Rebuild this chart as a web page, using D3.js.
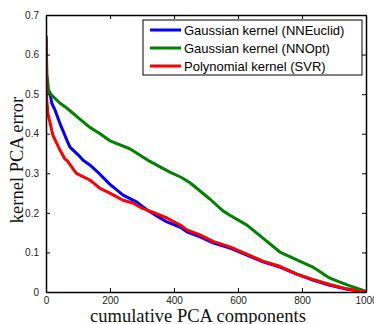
<html>
<head>
    <title>kernel PCA error</title>
    <style>
        body {
            margin: 0;
            padding: 0;
            background-color: white;
        }
        .tick text {
            font-family: "Liberation Sans", Arial, sans-serif;
            font-size: 10px;
            fill: #222;
        }
        .legend text {
            font-family: "Liberation Sans", Arial, sans-serif;
            font-size: 13px;
        }
        .axis-title {
            font-family: "Liberation Serif", "DejaVu Serif", serif;
            font-size: 18.5px;
            fill: #111;
        }
    </style>
</head>
<body>
<div id="chart"></div>
<script src="https://d3js.org/d3.v7.min.js"></script>
<script>
// values: x = number of components, y = error
const xEuclid = [0, 2, 5, 12, 18, 28, 44, 65, 75, 106, 116, 137, 159, 200, 241, 272, 284, 315, 350, 378, 422, 440, 480, 522, 575, 628, 678, 731, 784, 834, 887, 941, 1000];
const yEuclid = [0.648, 0.53, 0.51, 0.505, 0.477, 0.46, 0.425, 0.384, 0.366, 0.342, 0.333, 0.321, 0.305, 0.272, 0.245, 0.232, 0.227, 0.208, 0.19, 0.177, 0.163, 0.152, 0.14, 0.124, 0.111, 0.093, 0.076, 0.063, 0.045, 0.03, 0.017, 0.007, 0];

const xOpt = [0, 3, 8, 12, 44, 65, 106, 137, 169, 200, 262, 325, 387, 422, 450, 512, 553, 575, 628, 678, 731, 784, 834, 887, 941, 1000];
const yOpt = [0.645, 0.55, 0.51, 0.502, 0.477, 0.465, 0.437, 0.416, 0.4, 0.382, 0.362, 0.33, 0.303, 0.29, 0.276, 0.235, 0.205, 0.194, 0.169, 0.136, 0.101, 0.081, 0.063, 0.035, 0.018, 0.002];

const xSVR = [0, 2, 6, 12, 22, 34, 44, 59, 65, 95, 137, 169, 200, 241, 272, 300, 334, 378, 422, 440, 480, 522, 575, 628, 678, 731, 784, 834, 887, 941, 1000];
const ySVR = [0.64, 0.49, 0.45, 0.43, 0.395, 0.375, 0.358, 0.336, 0.333, 0.3, 0.283, 0.262, 0.25, 0.232, 0.225, 0.212, 0.202, 0.187, 0.168, 0.157, 0.145, 0.128, 0.114, 0.096, 0.078, 0.065, 0.045, 0.032, 0.019, 0.008, 0];

const seriesNames = ["Gaussian kernel (NNEuclid)", "Gaussian kernel (NNOpt)", "Polynomial kernel (SVR)"];
const seriesColors = ["#0000ff", "#008000", "#ff0000"];
const xTicks = [0, 200, 400, 600, 800, 1000];
const yTicks = [0, 0.1, 0.2, 0.3, 0.4, 0.5, 0.6, 0.7];

const width = 374, height = 324;
const margin = { top: 15, right: 8, bottom: 32, left: 46 };
const w = width - margin.left - margin.right;
const h = height - margin.top - margin.bottom;

const svg = d3.select("#chart").append("svg")
    .attr("width", width)
    .attr("height", height);

const g = svg.append("g")
    .attr("transform", `translate(${margin.left},${margin.top})`);

const x = d3.scaleLinear().domain([0, 1000]).range([0, w]);
const y = d3.scaleLinear().domain([0, 0.7]).range([h, 0]);

// clip so the thick lines stay inside the box
g.append("clipPath").attr("id", "clip")
    .append("rect").attr("width", w).attr("height", h);

const series = [
    xEuclid.map((d, i) => [d, yEuclid[i]]),
    xOpt.map((d, i) => [d, yOpt[i]]),
    xSVR.map((d, i) => [d, ySVR[i]])
];

const line = d3.line().x(d => x(d[0])).y(d => y(d[1]));

g.append("g").attr("clip-path", "url(#clip)")
    .selectAll("path")
    .data(series)
    .enter()
    .append("path")
    .attr("d", line)
    .attr("fill", "none")
    .attr("stroke", (d, i) => seriesColors[i])
    .attr("stroke-width", 3)
    .attr("stroke-linejoin", "round");

// axes, matlab style: ticks inside on all four sides
const fmtY = d => d === 0 ? "0" : d3.format(".1f")(d);
g.append("g").attr("transform", `translate(0,${h})`)
    .call(d3.axisBottom(x).tickValues(xTicks).tickFormat(d3.format("d")).tickSizeInner(-4).tickSizeOuter(0).tickPadding(5));
g.append("g")
    .call(d3.axisLeft(y).tickValues(yTicks).tickFormat(fmtY).tickSizeInner(-4).tickSizeOuter(0).tickPadding(7));
g.append("g")
    .call(d3.axisTop(x).tickValues(xTicks).tickFormat("").tickSizeInner(-4).tickSizeOuter(0));
g.append("g").attr("transform", `translate(${w},0)`)
    .call(d3.axisRight(y).tickValues(yTicks).tickFormat("").tickSizeInner(-4).tickSizeOuter(0));
g.selectAll(".domain").attr("stroke", "#000").attr("stroke-width", 1.5);
g.selectAll(".tick line").attr("stroke", "#000");

// legend
const legend = g.append("g").attr("class", "legend")
    .attr("transform", `translate(${143 - margin.left},${20 - margin.top})`);
legend.append("rect")
    .attr("width", 219).attr("height", 55)
    .attr("fill", "white").attr("stroke", "#000").attr("stroke-width", 1);
seriesNames.forEach((name, i) => {
    const yy = 10 + i * 18;
    legend.append("line")
        .attr("x1", 7).attr("x2", 38).attr("y1", yy).attr("y2", yy)
        .attr("stroke", seriesColors[i]).attr("stroke-width", 3);
    legend.append("text")
        .attr("x", 41).attr("y", yy).attr("dy", "0.35em")
        .text(name);
});

// axis titles
svg.append("text").attr("class", "axis-title")
    .attr("x", margin.left + w / 2 - 8).attr("y", 322)
    .attr("text-anchor", "middle")
    .text("cumulative PCA components");
svg.append("text").attr("class", "axis-title")
    .attr("transform", "translate(23,160) rotate(-90)")
    .attr("text-anchor", "middle")
    .text("kernel PCA error");
</script>
</body>
</html>
